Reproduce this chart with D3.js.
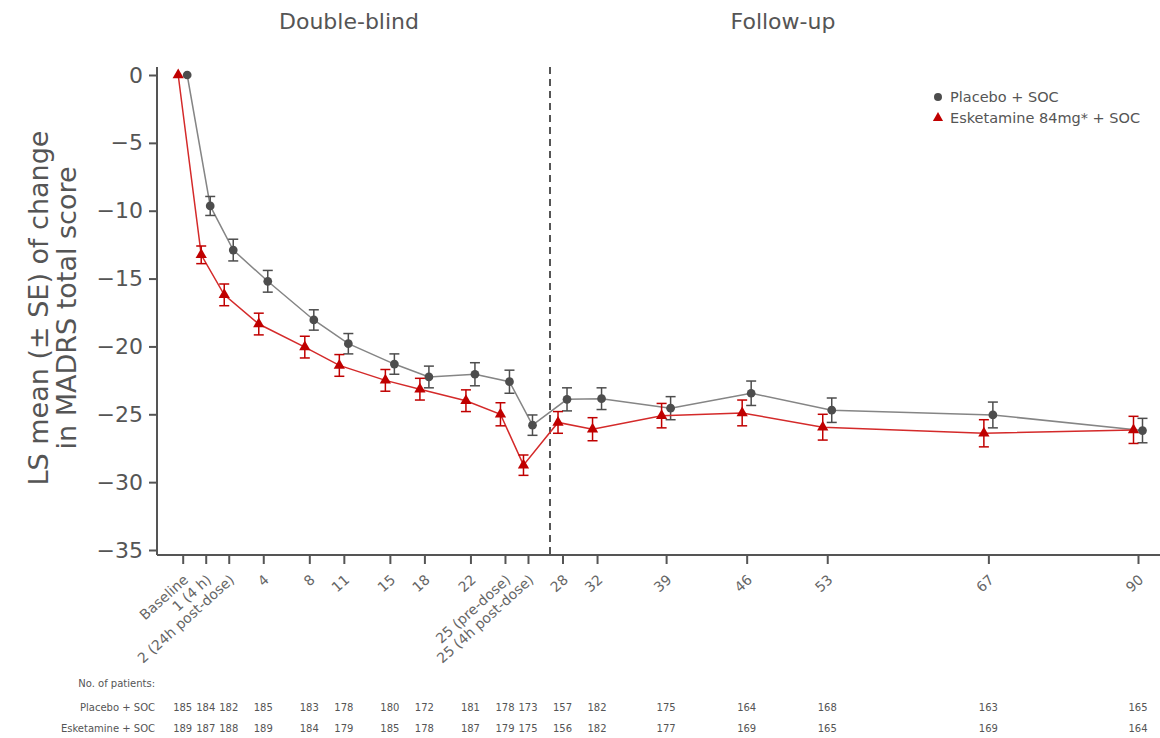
<!DOCTYPE html>
<html>
<head>
<meta charset="utf-8">
<script src="https://cdn.jsdelivr.net/npm/d3@7"></script>
<style>
  body { margin: 0; background: #fff; }
  svg { font-family: "DejaVu Sans", Verdana, sans-serif; }
</style>
</head>
<body>
<div id="chart-area"></div>
<script>
// visit labels and their place on the (compressed) study-day axis
var visits = ["Baseline", "1 (4 h)", "2 (24h post-dose)", "4", "8", "11", "15", "18", "22",
    "25 (pre-dose)", "25 (4h post-dose)", "28", "32", "39", "46", "53", "67", "90"];
var axisDay = [0, 2, 4, 7, 11, 14, 18, 21, 25, 28, 30, 33, 36, 42, 49, 56, 70, 83];

// LS mean change and SE
var placeboMean = [0, -9.65, -12.9, -15.2, -18.05, -19.8, -21.3, -22.25, -22.05, -22.6, -25.8,
    -23.9, -23.85, -24.55, -23.45, -24.7, -25.05, -26.2];
var placeboSE = [0, 0.7, 0.8, 0.8, 0.75, 0.75, 0.75, 0.8, 0.85, 0.85, 0.75, 0.85, 0.8, 0.85, 0.9, 0.9, 0.95, 0.9];
var esketMean = [0, -13.25, -16.2, -18.35, -20.05, -21.4, -22.5, -23.15, -24.0, -25.0, -28.75,
    -25.6, -26.1, -25.1, -24.9, -25.95, -26.4, -26.15];
var esketSE = [0, 0.65, 0.8, 0.8, 0.8, 0.8, 0.8, 0.8, 0.8, 0.85, 0.75, 0.8, 0.85, 0.9, 0.95, 0.95, 1.0, 1.0];

// number of patients per visit
var placeboN = [185, 184, 182, 185, 183, 178, 180, 172, 181, 178, 173, 157, 182, 175, 164, 168, 163, 165];
var esketN = [189, 187, 188, 189, 184, 179, 185, 178, 187, 179, 175, 156, 182, 177, 169, 165, 169, 164];

var yTicks = [0, -5, -10, -15, -20, -25, -30, -35];

var W = 1160, H = 738;
var svg = d3.select("#chart-area").append("svg")
    .attr("width", W)
    .attr("height", H);

var x = d3.scaleLinear().domain([0, 83]).range([182.7, 1138]);
var y = d3.scaleLinear().domain([0, -35]).range([75, 550]);

var axisX = 157, axisY = 555;
var grey = "#555";

// y axis
var yAxis = svg.append("g")
    .attr("transform", "translate(" + axisX + ",0)")
    .call(d3.axisLeft(y).tickValues(yTicks).tickSize(8).tickPadding(6));
yAxis.select(".domain").attr("d", "M0,67V" + axisY);
yAxis.selectAll("path, line").attr("stroke", grey).attr("stroke-width", 2);
yAxis.selectAll("text").attr("fill", grey).style("font-size", "22px")
    .style("font-family", "'DejaVu Sans', sans-serif");

// x axis
var xAxis = svg.append("g")
    .attr("transform", "translate(0," + axisY + ")")
    .call(d3.axisBottom(x).tickValues(axisDay).tickSize(9)
        .tickFormat((d, i) => visits[i]));
xAxis.select(".domain").attr("d", "M" + axisX + ",0H" + W);
xAxis.selectAll("path, line").attr("stroke", grey).attr("stroke-width", 2);
xAxis.selectAll("text")
    .attr("fill", "#666")
    .style("font-size", "14px")
    .style("font-family", "'DejaVu Sans', sans-serif")
    .attr("text-anchor", "end")
    .attr("dy", null)
    .attr("y", 0)
    .attr("transform", "translate(6,26) rotate(-42)");

// dashed divider between periods
svg.append("line")
    .attr("x1", 550).attr("x2", 550)
    .attr("y1", 67).attr("y2", axisY)
    .attr("stroke", grey)
    .attr("stroke-width", 2)
    .attr("stroke-dasharray", "7,5");

// period headers
svg.append("text").attr("x", 349).attr("y", 29).attr("text-anchor", "middle")
    .attr("fill", grey).style("font-size", "22px").text("Double-blind");
svg.append("text").attr("x", 783).attr("y", 29).attr("text-anchor", "middle")
    .attr("fill", grey).style("font-size", "22px").text("Follow-up");

// y title
var yt = svg.append("text")
    .attr("transform", "translate(0,308) rotate(-90)")
    .attr("text-anchor", "middle")
    .attr("fill", grey)
    .style("font-size", "27px");
yt.append("tspan").attr("x", 0).attr("y", 48).text("LS mean (\u00b1 SE) of change");
yt.append("tspan").attr("x", 0).attr("y", 76).text("in MADRS total score");

// series
var series = [
    {name: "Placebo + SOC", mean: placeboMean, se: placeboSE, dx: 4.5,
        line: "#858585", mark: "#4d4d4d", shape: d3.symbolCircle, size: 60},
    {name: "Esketamine 84mg* + SOC", mean: esketMean, se: esketSE, dx: -4.5,
        line: "#d42a2a", mark: "#c00000", shape: d3.symbolTriangle, size: 55}
];

series.forEach((s) => {
    var pts = axisDay.map((d, i) => ({px: x(d) + s.dx, m: s.mean[i], e: s.se[i]}));
    var g = svg.append("g");

    g.append("path")
        .datum(pts)
        .attr("fill", "none")
        .attr("stroke", s.line)
        .attr("stroke-width", 1.5)
        .attr("d", d3.line().x((d) => d.px).y((d) => y(d.m)));

    var eb = g.selectAll(".eb").data(pts.filter((d) => d.e > 0)).enter().append("g");
    eb.append("line")
        .attr("x1", (d) => d.px).attr("x2", (d) => d.px)
        .attr("y1", (d) => y(d.m + d.e)).attr("y2", (d) => y(d.m - d.e))
        .attr("stroke", s.mark).attr("stroke-width", 1.5);
    [1, -1].forEach((k) => {
        eb.append("line")
            .attr("x1", (d) => d.px - 5).attr("x2", (d) => d.px + 5)
            .attr("y1", (d) => y(d.m + k * d.e)).attr("y2", (d) => y(d.m + k * d.e))
            .attr("stroke", s.mark).attr("stroke-width", 1.5);
    });

    g.selectAll(".pt").data(pts).enter().append("path")
        .attr("transform", (d) => "translate(" + d.px + "," + y(d.m) + ")")
        .attr("d", d3.symbol().type(s.shape).size(s.size))
        .attr("fill", s.mark);
});

// legend
var leg = svg.append("g").attr("transform", "translate(938,97)");
series.forEach((s, i) => {
    leg.append("path")
        .attr("transform", "translate(0," + (i * 21) + ")")
        .attr("d", d3.symbol().type(s.shape).size(s.size - 10))
        .attr("fill", s.mark);
    leg.append("text")
        .attr("x", 12).attr("y", i * 21 + 5)
        .attr("fill", grey)
        .style("font-size", "14.5px")
        .text(s.name);
});

// patient numbers
var tbl = svg.append("g").attr("fill", grey).style("font-size", "10px");
tbl.append("text").attr("x", 155).attr("y", 687).attr("text-anchor", "end").text("No. of patients:");
tbl.append("text").attr("x", 155).attr("y", 711).attr("text-anchor", "end").text("Placebo + SOC");
tbl.append("text").attr("x", 155).attr("y", 732).attr("text-anchor", "end").text("Esketamine + SOC");
[[placeboN, 711], [esketN, 732]].forEach((row) => {
    tbl.selectAll(null).data(row[0]).enter().append("text")
        .attr("x", (d, i) => x(axisDay[i]))
        .attr("y", row[1])
        .attr("text-anchor", "middle")
        .text((d) => d);
});
</script>
</body>
</html>
